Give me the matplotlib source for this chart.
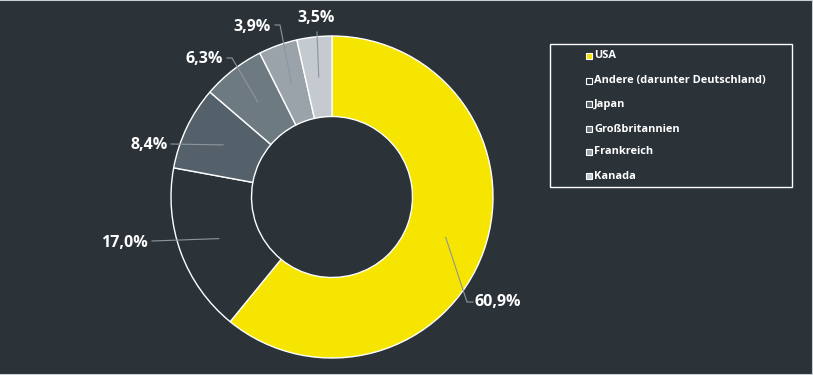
import matplotlib
matplotlib.use("Agg")
import matplotlib.pyplot as plt
from matplotlib.patches import Rectangle
import numpy as np

categories = ["USA", "Andere (darunter Deutschland)", "Japan", "Großbritannien", "Frankreich", "Kanada"]
values = [60.9, 17.0, 8.4, 6.3, 3.9, 3.5]
labels = ["60,9%", "17,0%", "8,4%", "6,3%", "3,9%", "3,5%"]

BG = "#2b3339"
colors = ["#f6e500", BG, "#55616a", "#6e7a82", "#9aa3aa", "#c4cacf"]

W, H = 813, 375
CX, CY, R = 332, 197, 161

fig = plt.figure(figsize=(W / 100, H / 100), dpi=100)
fig.patch.set_facecolor(BG)
ax = fig.add_axes([0, 0, 1, 1])
ax.set_facecolor(BG)
ax.axis("off")


def px(x, y):
    return ((x - CX) / R, (CY - y) / R)


wedges, _ = ax.pie(values, colors=colors, startangle=90, counterclock=False,
                   radius=1.0, wedgeprops=dict(width=0.5, edgecolor="white", linewidth=1.0))
ax.set_xlim(-CX / R, (W - CX) / R)
ax.set_ylim((CY - H) / R, CY / R)
ax.set_aspect("auto")

# label layout (pixel positions) and connector bend points
label_pos = [(474, 302), (148, 243), (168, 145), (223, 59), (271, 27), (316, 18)]
label_ha = ["left", "right", "right", "right", "right", "center"]
bend_pos = [[(467, 302), (473, 302)], [(152, 241)], [(171, 144)], [(232, 58), (227, 58)],
            [(280, 25), (275, 25)], [(317, 32)]]

for w, lab, lp, ha, bends in zip(wedges, labels, label_pos, label_ha, bend_pos):
    mid = np.deg2rad((w.theta1 + w.theta2) / 2)
    ax_, ay_ = 0.75 * np.cos(mid), 0.75 * np.sin(mid)
    pts = [(ax_, ay_)] + [px(*b) for b in bends]
    xs, ys = zip(*pts)
    ax.plot(xs, ys, color="#8c969c", lw=0.8, zorder=5)
    tx, ty = px(*lp)
    ax.text(tx, ty, lab, ha=ha, va="center", color="white", fontsize=11.5,
            fontweight="bold", family=["Open Sans", "DejaVu Sans"], zorder=6)

# legend box
fig.patches.append(Rectangle((550 / W, 1 - 187 / H), (792 - 550) / W, (187 - 44) / H,
                             transform=fig.transFigure, facecolor="none",
                             edgecolor="white", lw=1.0))
leg_y = [56, 81, 104, 129, 152, 176]
for cat, col, y in zip(categories, colors, leg_y):
    fig.patches.append(Rectangle((586 / W, 1 - (y + 3) / H), 6 / W, 6 / H,
                                 transform=fig.transFigure, facecolor=col,
                                 edgecolor="white", lw=0.8))
    fig.text(594 / W, 1 - y / H, cat, ha="left", va="center", color="white",
             fontsize=7.9, fontweight="bold", family=["Open Sans", "DejaVu Sans"])

# thin border
for (x0, y0, x1, y1) in [(0, 1, 1, 1), (1, 0, 1, 1), (0, 0, 1, 0)]:
    fig.add_artist(plt.Line2D([x0, x1], [y0, y1], transform=fig.transFigure,
                              color="#c8d0d5", lw=1.5))

fig.savefig("out.png", dpi=100, facecolor=BG)
